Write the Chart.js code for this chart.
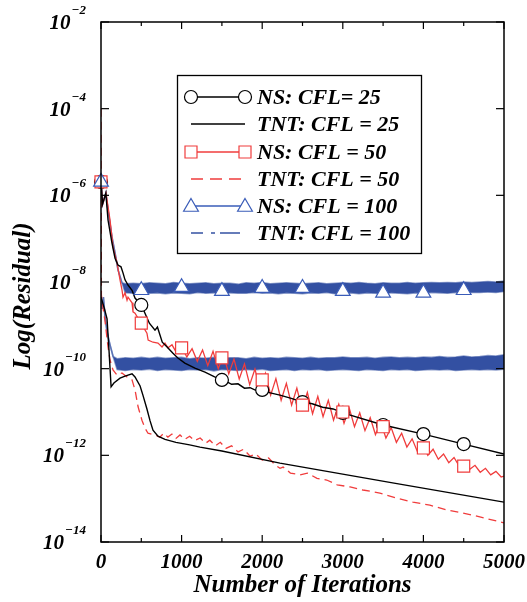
<!DOCTYPE html>
<html>
<head>
<meta charset="utf-8">
<script src="https://cdn.jsdelivr.net/npm/chart.js@4.4.1/dist/chart.umd.min.js"></script>
<style>
  html, body { margin: 0; padding: 0; background: #fff; }
  canvas { display: block; }
</style>
</head>
<body>
<canvas id="chart" width="527" height="602"></canvas>
<script>
// Axis ticks
const iterTicksMajor = [0, 1000, 2000, 3000, 4000, 5000];
const iterTickLabels = ['0', '1000', '2000', '3000', '4000', '5000'];
const iterTicksMinor = [500, 1500, 2500, 3500, 4500];
const residualTickExponents = [-14, -12, -10, -8, -6, -4, -2];

const legendLabels = ['NS: CFL= 25', 'TNT: CFL = 25', 'NS: CFL = 50', 'TNT: CFL = 50', 'NS: CFL = 100', 'TNT: CFL = 100'];

// All series are log10(residual) against iteration number.
// NS, CFL = 25
const ns25Iter = [0,20,60,87,136,174,211,248,273,298,335,385,422,500,600,670,700,760,820,890,950,1040,1165,1290,1410,1500,1560,1620,1700,1780,1850,1920,2000,2100,2220,2350,2500,2620,2750,2880,3000,3500,4000,4500,5000];
const ns25Log = [-5.69,-6.2,-5.95,-6.57,-7.10,-7.45,-7.61,-7.65,-7.79,-7.95,-8.07,-8.19,-8.37,-8.53,-8.95,-9.11,-9.04,-9.39,-9.50,-9.64,-9.75,-9.87,-9.99,-10.08,-10.19,-10.26,-10.30,-10.36,-10.35,-10.45,-10.44,-10.50,-10.49,-10.56,-10.61,-10.68,-10.77,-10.81,-10.89,-10.93,-11.02,-11.30,-11.51,-11.74,-11.97];
const ns25MarkIter = [0,500,1500,2000,2500,3000,3500,4000,4500];
const ns25MarkLog = [-5.69,-8.53,-10.26,-10.49,-10.77,-11.02,-11.30,-11.51,-11.74];

// NS, CFL = 50
const ns50Iter = [0,20,62,112,149,199,236,261,273,298,323,335,385,397,422,496,570,585,645,707,757,794,831,881,918,960,
  1000,1065,1130,1195,1260,1325,1390,1455,1520,1585,1650,1715,1780,1845,1910,1975,2040,2105,2170,2235,2300,2365,2430,2495,
  2560,2625,2690,2755,2820,2885,2950,3015,3080,3145,3210,3275,3340,3405,3470,3535,3600,3665,3730,3795,3860,3925,3990,4055,
  4120,4185,4250,4315,4380,4445,4510,4575,4640,4705,4770,4835,4900,4965,5000];
const ns50Log = [-5.69,-6.2,-5.95,-6.57,-7.19,-7.56,-7.95,-8.19,-8.35,-8.25,-8.42,-8.35,-8.48,-8.69,-8.72,-8.95,-9.18,-9.34,-9.39,-9.41,-9.50,-9.41,-9.52,-9.45,-9.57,-9.48,
  -9.50,-9.73,-9.54,-9.83,-9.57,-9.93,-9.60,-10.00,-9.67,-10.12,-9.78,-10.24,-9.89,-10.37,-10.01,-10.49,-10.11,-10.61,-10.23,-10.73,-10.34,-10.84,-10.45,-10.94,
  -10.55,-11.04,-10.64,-11.11,-10.73,-11.19,-10.82,-11.26,-10.91,-11.34,-11.02,-11.43,-11.13,-11.52,-11.24,-11.60,-11.36,-11.70,-11.49,-11.81,-11.62,-11.91,-11.75,-12.00,
  -11.86,-12.09,-11.97,-12.17,-12.05,-12.25,-12.14,-12.32,-12.23,-12.39,-12.30,-12.45,-12.37,-12.50,-12.48];
const ns50MarkIter = [0,500,1000,1500,2000,2500,3000,3500,4000,4500];
const ns50MarkLog = [-5.69,-8.95,-9.52,-9.75,-10.26,-10.84,-11.00,-11.34,-11.83,-12.25];

// NS, CFL = 100: stalls in a noisy band, given by its upper and lower envelopes
const ns100Iter = [0,20,60,87,136,174,211,261,
  300,400,500,600,700,800,900,1000,1100,1200,1300,1400,1500,1600,1700,1800,1900,2000,2100,2200,2300,2400,2500,2600,2700,2800,2900,3000,
  3100,3200,3300,3400,3500,3600,3700,3800,3900,4000,4100,4200,4300,4400,4500,4600,4700,4800,4900,5000];
const ns100Upper = [-5.69,-6.2,-5.95,-6.34,-6.96,-7.33,-7.72,-8.02,
  -8.04,-8.03,-8.04,-8.02,-8.03,-8.04,-8.01,-8.03,-8.04,-8.03,
  -8.02,-8.04,-8.03,-8.03,-8.05,-8.02,-8.03,-8.01,-8.04,-8.03,
  -8.02,-8.03,-8.04,-8.03,-8.02,-8.04,-8.03,-8.02,-8.03,-8.01,
  -8.03,-8.04,-8.02,-8.03,-8.03,-8.01,-8.03,-8.02,-8.01,-8.02,
  -8.01,-8.02,-8.00,-8.01,-8.00,-7.99,-8.00,-7.98];
const ns100Lower = [-5.69,-6.2,-5.95,-6.34,-6.96,-7.33,-7.72,-8.02,
  -8.25,-8.26,-8.24,-8.26,-8.25,-8.27,-8.25,-8.26,-8.27,-8.24,
  -8.26,-8.25,-8.28,-8.25,-8.26,-8.26,-8.24,-8.26,-8.25,-8.27,
  -8.25,-8.26,-8.27,-8.25,-8.26,-8.24,-8.27,-8.26,-8.25,-8.27,
  -8.25,-8.26,-8.28,-8.25,-8.26,-8.27,-8.25,-8.26,-8.24,-8.25,
  -8.26,-8.24,-8.25,-8.24,-8.24,-8.23,-8.24,-8.22];
const ns100MarkIter = [0,500,1000,1500,2000,2500,3000,3500,4000,4500];
const ns100MarkLog = [-5.69,-8.19,-8.12,-8.21,-8.14,-8.14,-8.21,-8.25,-8.25,-8.19];

// TNT, CFL = 25
const tnt25Iter = [0,40,75,100,125,160,236,298,385,422,485,520,570,608,645,707,794,930,1100,1228,1500,2220,3600,5000];
const tnt25Log = [-8.35,-8.6,-8.85,-9.6,-10.42,-10.33,-10.22,-10.17,-10.12,-10.19,-10.40,-10.61,-10.93,-11.20,-11.42,-11.56,-11.63,-11.70,-11.76,-11.81,-11.90,-12.18,-12.63,-13.08];

// TNT, CFL = 50
const tnt50Iter = [0,5,25,50,87,112,149,199,260,323,385,422,460,508,545,583,670,730,780,830,880,930,980,1040,1100,1160,1230,1300,1350,1420,
  1480,1550,1620,1700,1770,1850,1920,2000,2080,2160,2221,2260,2350,2470,2560,2680,2800,2930,3090,3250,3460,3670,3870,4080,4290,4490,4700,5000];
const tnt50Log = [-4.0,-8.3,-8.6,-8.9,-9.5,-9.8,-10.03,-10.15,-10.10,-10.19,-10.26,-10.49,-10.88,-11.19,-11.37,-11.49,-11.53,-11.58,-11.49,-11.58,
  -11.51,-11.61,-11.53,-11.63,-11.56,-11.66,-11.60,-11.72,-11.65,-11.78,-11.70,-11.84,-11.78,-11.92,-11.86,-12.02,-11.97,-12.11,-12.06,-12.22,
  -12.30,-12.27,-12.41,-12.45,-12.41,-12.53,-12.57,-12.68,-12.73,-12.80,-12.87,-12.99,-13.08,-13.15,-13.26,-13.33,-13.42,-13.56];

// TNT, CFL = 100: noisy band
const tnt100Iter = [0,15,30,50,75,112,150,
  200,300,400,500,600,700,800,900,1000,1100,1200,1300,1400,1500,1600,1700,1800,1900,2000,2100,2200,2300,2400,2500,2600,2700,2800,2900,3000,
  3100,3200,3300,3400,3500,3600,3700,3800,3900,4000,4100,4200,4300,4400,4500,4600,4700,4800,4900,5000];
const tnt100Upper = [-8.30,-8.62,-8.35,-8.80,-9.15,-9.45,-9.72,
  -9.77,-9.75,-9.76,-9.74,-9.76,-9.74,-9.76,-9.75,-9.74,-9.77,
  -9.75,-9.76,-9.74,-9.76,-9.75,-9.75,-9.77,-9.74,-9.76,-9.75,
  -9.76,-9.74,-9.75,-9.76,-9.74,-9.76,-9.75,-9.75,-9.73,-9.75,
  -9.75,-9.74,-9.76,-9.74,-9.73,-9.75,-9.74,-9.75,-9.73,-9.74,
  -9.72,-9.74,-9.73,-9.71,-9.73,-9.72,-9.70,-9.71,-9.68];
const tnt100Lower = [-8.30,-8.62,-8.35,-8.80,-9.15,-9.45,-9.72,
  -10.02,-10.04,-10.02,-10.03,-10.01,-10.04,-10.02,-10.03,-10.04,-10.02,
  -10.03,-10.02,-10.05,-10.02,-10.03,-10.04,-10.02,-10.03,-10.01,-10.04,
  -10.03,-10.02,-10.04,-10.02,-10.03,-10.02,-10.04,-10.03,-10.02,-10.03,
  -10.04,-10.02,-10.03,-10.04,-10.02,-10.03,-10.02,-10.04,-10.03,-10.02,
  -10.03,-10.02,-10.04,-10.03,-10.02,-10.03,-10.02,-10.03,-10.01];

const BLACK = '#000000';
const RED = '#f03c3c';
const BLUE = '#3350a2';
const BLUE_EDGE = 'rgba(51, 80, 162, 0.55)';
const BLUE_MARK = '#3a5cb8';
const SERIF = '"Liberation Serif", "Times New Roman", Times, serif';

const toPoints = (iters, logs) => iters.map((x, i) => ({ x: x, y: Math.pow(10, logs[i]) }));

function lineSet(iters, logs, color, width, order, dash) {
  return {
    data: toPoints(iters, logs), borderColor: color, borderWidth: width,
    borderDash: dash || [], pointRadius: 0, fill: false, order: order
  };
}
function markSet(iters, logs, style, radius, color) {
  return {
    data: toPoints(iters, logs), showLine: false, pointStyle: style, pointRadius: radius,
    pointBorderColor: color, pointBackgroundColor: '#ffffff', pointBorderWidth: 1.2,
    clip: false, order: 0
  };
}
function bandSet(iters, upper, lower, order) {
  return [
    Object.assign(lineSet(iters, upper, BLUE_EDGE, 1.6, order), { fill: '+1', backgroundColor: BLUE }),
    lineSet(iters, lower, BLUE_EDGE, 1.6, order)
  ];
}

const datasets = [
  markSet(ns100MarkIter, ns100MarkLog, 'triangle', 8.5, BLUE_MARK),
  markSet(ns50MarkIter, ns50MarkLog, 'rect', 8.5, RED),
  markSet(ns25MarkIter, ns25MarkLog, 'circle', 6.5, BLACK),
  lineSet(ns25Iter, ns25Log, BLACK, 1.4, 1),
  lineSet(ns50Iter, ns50Log, RED, 1.3, 1),
  lineSet(tnt25Iter, tnt25Log, BLACK, 1.4, 2),
  lineSet(tnt50Iter, tnt50Log, RED, 1.3, 2, [8, 5]),
  ...bandSet(ns100Iter, ns100Upper, ns100Lower, 3),
  ...bandSet(tnt100Iter, tnt100Upper, tnt100Lower, 4)
];

// Frame, inward ticks, y labels with superscript exponents, y title
const framePlugin = {
  id: 'frame',
  afterDatasetsDraw(chart) {
    const ctx = chart.ctx;
    const { left, right, top, bottom } = chart.chartArea;
    const xs = chart.scales.x, ys = chart.scales.y;
    const seg = (x1, y1, x2, y2) => { ctx.beginPath(); ctx.moveTo(x1, y1); ctx.lineTo(x2, y2); ctx.stroke(); };
    ctx.save();
    ctx.strokeStyle = '#000'; ctx.lineWidth = 1.5; ctx.setLineDash([]);
    ctx.strokeRect(left, top, right - left, bottom - top);
    ctx.lineWidth = 1.2;
    iterTicksMajor.forEach(v => { const x = xs.getPixelForValue(v); seg(x, bottom, x, bottom - 7); seg(x, top, x, top + 7); });
    iterTicksMinor.forEach(v => { const x = xs.getPixelForValue(v); seg(x, bottom, x, bottom - 4); seg(x, top, x, top + 4); });
    ctx.fillStyle = '#000';
    residualTickExponents.forEach(e => {
      const y = ys.getPixelForValue(Math.pow(10, e));
      seg(left, y, left + 8, y); seg(right, y, right - 8, y);
      const sup = '\u2212' + Math.abs(e);
      ctx.textAlign = 'right'; ctx.textBaseline = 'alphabetic';
      ctx.font = 'italic bold 13px ' + SERIF;
      const sw = ctx.measureText(sup).width;
      ctx.fillText(sup, 86, y - 8);
      ctx.font = 'italic bold 21px ' + SERIF;
      ctx.fillText('10', 86 - sw - 1, y + 7);
    });
    ctx.translate(24, 296); ctx.rotate(-Math.PI / 2);
    ctx.textAlign = 'center'; ctx.textBaseline = 'middle';
    ctx.font = 'italic bold 25px ' + SERIF;
    ctx.fillText('Log(Residual)', 0, 0);
    ctx.restore();
  }
};

// Boxed key inside the plot
const keyPlugin = {
  id: 'key',
  afterDraw(chart) {
    const ctx = chart.ctx;
    const bx = 177, by = 75, bw = 244, bh = 178;
    const rowY = [97, 124, 152, 179, 206, 233];
    const x1 = 191, x2 = 245, tx = 257;
    ctx.save();
    ctx.fillStyle = '#fff'; ctx.fillRect(bx, by, bw, bh);
    ctx.strokeStyle = '#000'; ctx.lineWidth = 1.3; ctx.strokeRect(bx + 0.5, by + 0.5, bw, bh);
    const seg = (a, b, y, color, w) => { ctx.strokeStyle = color; ctx.lineWidth = w; ctx.beginPath(); ctx.moveTo(a, y); ctx.lineTo(b, y); ctx.stroke(); };
    const mark = (style, x, y, color) => {
      ctx.fillStyle = '#fff'; ctx.strokeStyle = color; ctx.lineWidth = 1.2; ctx.beginPath();
      if (style === 'circle') ctx.arc(x, y, 6.5, 0, Math.PI * 2);
      else if (style === 'rect') ctx.rect(x - 6, y - 6, 12, 12);
      else { ctx.moveTo(x, y - 8.5); ctx.lineTo(x + 7.4, y + 4.25); ctx.lineTo(x - 7.4, y + 4.25); ctx.closePath(); }
      ctx.fill(); ctx.stroke();
    };
    seg(x1, x2, rowY[0], BLACK, 1.3); mark('circle', x1, rowY[0], BLACK); mark('circle', x2, rowY[0], BLACK);
    seg(x1, x2, rowY[1], BLACK, 1.3);
    seg(x1, x2, rowY[2], RED, 1.3); mark('rect', x1, rowY[2], RED); mark('rect', x2, rowY[2], RED);
    ctx.setLineDash([12, 7]); seg(x1, x2, rowY[3], RED, 1.3); ctx.setLineDash([]);
    seg(x1, x2, rowY[4], BLUE_MARK, 1.3); mark('triangle', x1, rowY[4] + 1, BLUE_MARK); mark('triangle', x2, rowY[4] + 1, BLUE_MARK);
    seg(191, 203, rowY[5], BLUE, 1.5); seg(211, 215, rowY[5], BLUE, 1.5); seg(220, 240, rowY[5], BLUE, 1.5);
    ctx.fillStyle = '#000'; ctx.textAlign = 'left'; ctx.textBaseline = 'alphabetic';
    ctx.font = 'italic bold 22px ' + SERIF;
    legendLabels.forEach((t, i) => ctx.fillText(t, tx, rowY[i] + 7));
    ctx.restore();
  }
};

const whiteBg = {
  id: 'whiteBg',
  beforeDraw(chart) { const c = chart.ctx; c.save(); c.fillStyle = '#fff'; c.fillRect(0, 0, chart.width, chart.height); c.restore(); }
};

new Chart(document.getElementById('chart'), {
  type: 'line',
  data: { datasets: datasets },
  options: {
    responsive: false, animation: false, devicePixelRatio: 1,
    layout: { padding: { left: 101, right: 23, top: 22, bottom: 0 } },
    plugins: { legend: { display: false }, tooltip: { enabled: false } },
    elements: { line: { tension: 0 } },
    scales: {
      x: {
        type: 'linear', min: 0, max: 5000,
        afterBuildTicks: s => { s.ticks = iterTicksMajor.map(v => ({ value: v })); },
        ticks: {
          callback: (v, i) => iterTickLabels[i], color: '#000', padding: 8,
          maxRotation: 0, autoSkip: false,
          font: { family: SERIF, size: 21, style: 'italic', weight: 'bold' }
        },
        grid: { display: false, drawTicks: false },
        border: { display: false },
        title: {
          display: true, text: 'Number of Iterations', color: '#000',
          font: { family: SERIF, size: 25, style: 'italic', weight: 'bold' },
          padding: { top: 0, bottom: 1 }
        },
        afterFit: s => { s.height = 60; s.paddingLeft = 0; s.paddingRight = 0; }
      },
      y: { type: 'logarithmic', min: 1e-14, max: 1e-2, display: false }
    }
  },
  plugins: [whiteBg, framePlugin, keyPlugin]
});
</script>
</body>
</html>
